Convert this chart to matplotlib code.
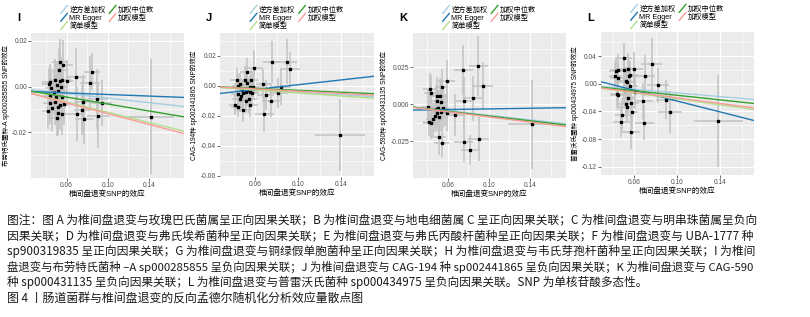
import matplotlib.pyplot as plt
from matplotlib.legend_handler import HandlerBase
from matplotlib.lines import Line2D
from matplotlib.ticker import FixedLocator

plt.rcParams["font.family"] = ["Liberation Sans", "Noto Sans CJK SC", "DejaVu Sans"]

W, H = 810, 317

# MR methods (legend order) and their colours
methods = ["逆方差加权", "MR Egger", "简单模型", "加权中位数", "加权模型"]
method_colors = ["#a6cee3", "#1f78b4", "#b2df8a", "#33a02c", "#fb9a99"]

# ---- Panel I: 布劳特氏菌种-A sp000285855
i_x = [0.0537, 0.0568, 0.0527, 0.0695, 0.0847, 0.0489, 0.0537, 0.0560, 0.0600, 0.0436,
       0.0426, 0.0505, 0.0452, 0.0546, 0.0828, 0.0520, 0.0474, 0.0442, 0.0500, 0.0553,
       0.0900, 0.0436, 0.0490, 0.0537, 0.0575, 0.0758, 0.0940, 0.0458, 0.0520, 0.0417,
       0.0752, 0.0520, 0.0560, 0.0700, 0.0910, 0.0505, 0.0774, 0.1416]
i_x_se = [0.008, 0.009, 0.007, 0.009, 0.008, 0.006, 0.007, 0.008, 0.006, 0.007,
          0.006, 0.008, 0.006, 0.007, 0.010, 0.008, 0.006, 0.007, 0.008, 0.006,
          0.010, 0.006, 0.007, 0.008, 0.007, 0.009, 0.010, 0.006, 0.007, 0.006,
          0.008, 0.007, 0.006, 0.008, 0.011, 0.007, 0.009, 0.023]
i_y = [0.0107, 0.0095, 0.0074, 0.0041, 0.0066, 0.0031, 0.0026, 0.0030, 0.0026, 0.0019,
       0.0012, 0.0009, -0.0006, -0.0003, 0.0015, -0.0018, -0.0022, -0.0040, -0.0047, -0.0044,
       -0.0054, -0.0073, -0.0069, -0.0079, -0.0076, -0.0069, -0.0073, -0.0093, -0.0088, -0.0105,
       -0.0102, -0.0114, -0.0120, -0.0120, -0.0127, -0.0137, -0.0142, -0.0131]
i_y_se = [0.010, 0.011, 0.009, 0.013, 0.008, 0.009, 0.008, 0.010, 0.009, 0.008,
          0.007, 0.010, 0.008, 0.009, 0.012, 0.010, 0.009, 0.011, 0.010, 0.009,
          0.013, 0.009, 0.010, 0.011, 0.009, 0.012, 0.010, 0.010, 0.009, 0.008,
          0.011, 0.010, 0.009, 0.012, 0.014, 0.008, 0.011, 0.025]
i_slope = [-0.050, -0.0173, -0.112, -0.076, -0.118]
i_intercept = [0.0, -0.0017, 0.0, 0.0, 0.0]

# ---- Panel J: CAG-194种 sp002441865
j_x = [0.0755, 0.0895, 0.0926, 0.0594, 0.0522, 0.0429, 0.0507, 0.0563, 0.0522, 0.0460,
       0.0678, 0.0842, 0.0445, 0.0584, 0.0553, 0.0476, 0.0538, 0.0513, 0.0553, 0.0439,
       0.0491, 0.0575, 0.0699, 0.0467, 0.0460, 0.0749, 0.0817, 0.0544, 0.0513, 0.0414,
       0.0553, 0.0439, 0.0488, 0.0687, 0.1390]
j_x_se = [0.008, 0.010, 0.009, 0.008, 0.006, 0.006, 0.007, 0.006, 0.007, 0.006,
          0.007, 0.009, 0.006, 0.008, 0.007, 0.006, 0.007, 0.006, 0.007, 0.006,
          0.007, 0.006, 0.008, 0.006, 0.007, 0.008, 0.009, 0.007, 0.006, 0.006,
          0.007, 0.006, 0.007, 0.009, 0.023]
j_y = [0.0156, 0.0158, 0.0113, 0.0118, 0.0093, 0.0040, 0.0040, 0.0036, 0.0018, 0.0011,
       0.0007, -0.0009, -0.0004, -0.0009, -0.0011, -0.0033, -0.0031, -0.0042, -0.0044, -0.0056,
       -0.0053, -0.0051, -0.0060, -0.0071, -0.0087, -0.0100, -0.0049, -0.0093, -0.0104, -0.0127,
       -0.0133, -0.0142, -0.0164, -0.0187, -0.0327]
j_y_se = [0.014, 0.015, 0.011, 0.012, 0.009, 0.008, 0.009, 0.007, 0.008, 0.007,
          0.010, 0.012, 0.008, 0.009, 0.008, 0.007, 0.008, 0.009, 0.008, 0.007,
          0.008, 0.007, 0.010, 0.008, 0.009, 0.011, 0.010, 0.009, 0.008, 0.007,
          0.008, 0.007, 0.008, 0.012, 0.024]
j_slope = [-0.044, 0.080, -0.050, -0.032, -0.038]
j_intercept = [0.0, -0.0075, 0.0, 0.0, 0.0]

# ---- Panel K: CAG-590种 sp000431135
k_x = [0.0896, 0.0750, 0.0587, 0.0538, 0.0938, 0.0424, 0.0430, 0.0489, 0.0522, 0.0841,
       0.0489, 0.0532, 0.0756, 0.0408, 0.0482, 0.0554, 0.0506, 0.0571, 0.0528, 0.0496,
       0.0587, 0.0668, 0.0473, 0.0515, 0.0450, 0.0417, 0.0430, 0.1416, 0.0515, 0.0899,
       0.0753, 0.0538, 0.0818]
k_x_se = [0.009, 0.009, 0.008, 0.006, 0.010, 0.007, 0.006, 0.007, 0.006, 0.009,
          0.007, 0.006, 0.008, 0.006, 0.007, 0.006, 0.007, 0.006, 0.007, 0.006,
          0.007, 0.009, 0.006, 0.007, 0.006, 0.006, 0.007, 0.023, 0.007, 0.010,
          0.009, 0.007, 0.009]
k_y = [0.0257, 0.0230, 0.0155, 0.0117, 0.0124, 0.0101, 0.0077, 0.0056, 0.0056, 0.0038,
       0.0023, 0.0016, 0.0023, -0.0018, -0.0034, -0.0029, -0.0025, -0.0041, -0.0052, -0.0063,
       -0.0059, -0.0074, -0.0081, -0.0090, -0.0104, -0.0119, -0.0126, -0.0137, -0.0225, -0.0236,
       -0.0255, -0.0261, -0.0311]
k_y_se = [0.020, 0.017, 0.014, 0.012, 0.016, 0.011, 0.012, 0.013, 0.012, 0.015,
          0.012, 0.013, 0.016, 0.011, 0.012, 0.013, 0.012, 0.011, 0.013, 0.012,
          0.012, 0.014, 0.011, 0.012, 0.011, 0.010, 0.011, 0.030, 0.012, 0.015,
          0.014, 0.010, 0.010]
k_slope = [-0.076, 0.011, -0.085, -0.081, -0.087]
k_intercept = [0.0, -0.0044, 0.0, 0.0, 0.0]

# ---- Panel L: 普雷沃氏菌种 sp000434975
l_x = [0.0508, 0.0763, 0.0603, 0.0431, 0.0449, 0.0511, 0.0542, 0.0554, 0.0563, 0.0702,
       0.0425, 0.0449, 0.0523, 0.0535, 0.0825, 0.0563, 0.0511, 0.0609, 0.0440, 0.0449,
       0.0548, 0.0686, 0.0902, 0.0572, 0.0523, 0.0532, 0.0578, 0.0932, 0.0492, 0.0480,
       0.0695, 0.1385, 0.0572]
l_x_se = [0.007, 0.010, 0.008, 0.006, 0.007, 0.006, 0.007, 0.006, 0.007, 0.009,
          0.006, 0.007, 0.006, 0.007, 0.010, 0.007, 0.006, 0.008, 0.006, 0.007,
          0.006, 0.009, 0.010, 0.007, 0.006, 0.007, 0.006, 0.011, 0.007, 0.008,
          0.009, 0.023, 0.008]
l_y = [0.0375, 0.0288, 0.0221, 0.0192, 0.0207, 0.0197, 0.0221, 0.0120, 0.0125, 0.0120,
       0.0120, 0.0086, 0.0038, 0.0024, -0.0024, -0.0034, -0.0096, -0.0120, -0.0144, -0.0163,
       -0.0202, -0.0250, -0.0231, -0.0279, -0.0288, -0.0336, -0.0413, -0.0408, -0.0452, -0.0548,
       -0.0562, -0.0538, -0.0692]
l_y_se = [0.022, 0.038, 0.024, 0.020, 0.022, 0.021, 0.023, 0.022, 0.020, 0.030,
          0.021, 0.022, 0.020, 0.021, 0.025, 0.022, 0.021, 0.024, 0.020, 0.022,
          0.021, 0.026, 0.028, 0.022, 0.021, 0.022, 0.024, 0.030, 0.023, 0.022,
          0.025, 0.066, 0.025]
l_slope = [-0.132, -0.394, -0.217, -0.166, -0.203]
l_intercept = [0.0, 0.0145, 0.0, 0.0, 0.0]

x_label = "椎间盘退变SNP的效应"
caption_lines = [
    "图注：图 A 为椎间盘退变与玫瑰巴氏菌属呈正向因果关联；B 为椎间盘退变与地电细菌属 C 呈正向因果关联；C 为椎间盘退变与明串珠菌属呈负向",
    "因果关联；D 为椎间盘退变与弗氏埃希菌种呈正向因果关联；E 为椎间盘退变与弗氏丙酸杆菌种呈正向因果关联；F 为椎间盘退变与 UBA-1777 种",
    "sp900319835 呈正向因果关联；G 为椎间盘退变与铜绿假单胞菌种呈正向因果关联；H 为椎间盘退变与韦氏芽孢杆菌种呈正向因果关联；I 为椎间",
    "盘退变与布劳特氏菌种 –A sp000285855 呈负向因果关联；J 为椎间盘退变与 CAG-194 种 sp002441865 呈负向因果关联；K 为椎间盘退变与 CAG-590",
    "种 sp000431135 呈负向因果关联；L 为椎间盘退变与普雷沃氏菌种 sp000434975 呈负向因果关联。SNP 为单核苷酸多态性。",
]
figure_title = "图 4 丨肠道菌群与椎间盘退变的反向孟德尔随机化分析效应量散点图"


class DiagonalHandler(HandlerBase):
    """ggplot-style abline legend key: a short diagonal stroke."""

    def create_artists(self, legend, orig_handle, xdescent, ydescent,
                       width, height, fontsize, trans):
        x0, y0 = -xdescent, -ydescent
        line = Line2D([x0, x0 + width], [y0 - 1, y0 + height + 1],
                      color=orig_handle.get_color(), lw=orig_handle.get_linewidth(),
                      transform=trans)
        return [line]


def px_rect(left, right, top, bottom):
    return [left / W, 1 - bottom / H, (right - left) / W, (bottom - top) / H]


def draw_panel(rect, letter, x, x_se, y, y_se, slopes, intercepts, ylabel, ylabel_x,
               xlim, ylim, yticks, yticklabels, yminor):
    ax = fig.add_axes(px_rect(*rect))
    ax.set_facecolor("#ebebeb")
    for s in ax.spines.values():
        s.set_visible(False)

    ax.errorbar(x, y, xerr=x_se, yerr=y_se, fmt="none", ecolor="#c2c2c2",
                elinewidth=1.1, capsize=0, zorder=2)
    ax.plot(x, y, "s", color="black", ms=1.8, zorder=3)
    for m, c, b1, b0 in zip(methods, method_colors, slopes, intercepts):
        ax.axline((0, b0), slope=b1, color=c, lw=1.0, label=m, zorder=4)

    ax.set_xlim(*xlim)
    ax.set_ylim(*ylim)
    ax.set_xticks([0.06, 0.10, 0.14])
    ax.set_xticklabels(["0.06", "0.10", "0.14"])
    ax.xaxis.set_minor_locator(FixedLocator([0.04, 0.08, 0.12, 0.16]))
    ax.set_yticks(yticks)
    ax.set_yticklabels(yticklabels)
    ax.yaxis.set_minor_locator(FixedLocator(yminor))
    ax.grid(True, which="major", color="white", lw=0.85)
    ax.grid(True, which="minor", color="white", lw=0.45)
    ax.set_axisbelow(True)
    ax.tick_params(which="major", length=2, width=0.5, color="#333333",
                   labelsize=4.8, labelcolor="#4d4d4d", pad=0.8)
    ax.tick_params(which="minor", length=0)

    ax.set_xlabel(x_label, fontsize=5.5, labelpad=1)
    ax.set_ylabel(ylabel, fontsize=4.7)
    # place the y label centre at a fixed pixel column, as in the source
    ax.yaxis.set_label_coords((ylabel_x - rect[0]) / (rect[1] - rect[0]), 0.5)

    ax.legend(loc="lower center", bbox_to_anchor=(0.5, 0.99), ncol=2,
              fontsize=5.2, frameon=False, handlelength=0.9, handleheight=0.7,
              handletextpad=0.3, columnspacing=0.5, labelspacing=0.12,
              borderpad=0.1, handler_map={Line2D: DiagonalHandler()})

    fig.text((rect[0] - 14) / W, 1 - 18 / H, letter, fontsize=8,
             fontweight="bold", va="center", ha="left")
    return ax


fig = plt.figure(figsize=(W / 100, H / 100), dpi=100)

draw_panel((31, 184, 33, 178), "I", i_x, i_x_se, i_y, i_y_se, i_slope, i_intercept,
           "布劳特氏菌种-A sp000285855 SNP的效应", 10,
           (0.0255, 0.174), (-0.040, 0.0235),
           [0.02, 0.0, -0.02], ["0.02", "0.00", "-0.02"],
           [0.01, -0.01, -0.03])
draw_panel((220, 374, 33, 177), "J", j_x, j_x_se, j_y, j_y_se, j_slope, j_intercept,
           "CAG-194种 sp002441865 SNP的效应", 198,
           (0.0274, 0.1707), (-0.061, 0.035),
           [0.02, 0.0, -0.02, -0.04, -0.06],
           ["0.02", "0.00", "-0.02", "-0.04", "-0.06"],
           [0.03, 0.01, -0.01, -0.03, -0.05])
draw_panel((413, 566, 33, 178), "K", k_x, k_x_se, k_y, k_y_se, k_slope, k_intercept,
           "CAG-590种 sp000431135 SNP的效应", 388,
           (0.0259, 0.1751), (-0.050, 0.048),
           [0.025, 0.0, -0.025], ["0.025", "0.000", "-0.025"],
           [0.0375, 0.0125, -0.0125, -0.0375])
draw_panel((601, 754, 32, 175), "L", l_x, l_x_se, l_y, l_y_se, l_slope, l_intercept,
           "普雷沃氏菌种 sp000434975 SNP的效应", 579,
           (0.0293, 0.1716), (-0.132, 0.075),
           [0.04, 0.0, -0.04, -0.08, -0.12],
           ["0.04", "0.00", "-0.04", "-0.08", "-0.12"],
           [0.06, 0.02, -0.02, -0.06, -0.10])

# caption: the first four lines are justified to the same width in the source
cap_family = ["Noto Sans CJK SC", "DejaVu Sans"]
renderer = fig.canvas.get_renderer()
for k, line in enumerate(caption_lines):
    t = fig.text(7 / W, 1 - (220 + 15.5 * k) / H, line, fontsize=8.4,
                 family=cap_family, va="center", ha="left", color="#1a1a1a")
    if k < 4:
        width = t.get_window_extent(renderer).width
        t.set_fontsize(8.4 * 746 / width)
fig.text(7 / W, 1 - 298 / H, figure_title, fontsize=8.6, family=cap_family,
         va="center", ha="left", color="#1a1a1a", fontweight="medium")

fig.savefig("out.png", dpi=100)
